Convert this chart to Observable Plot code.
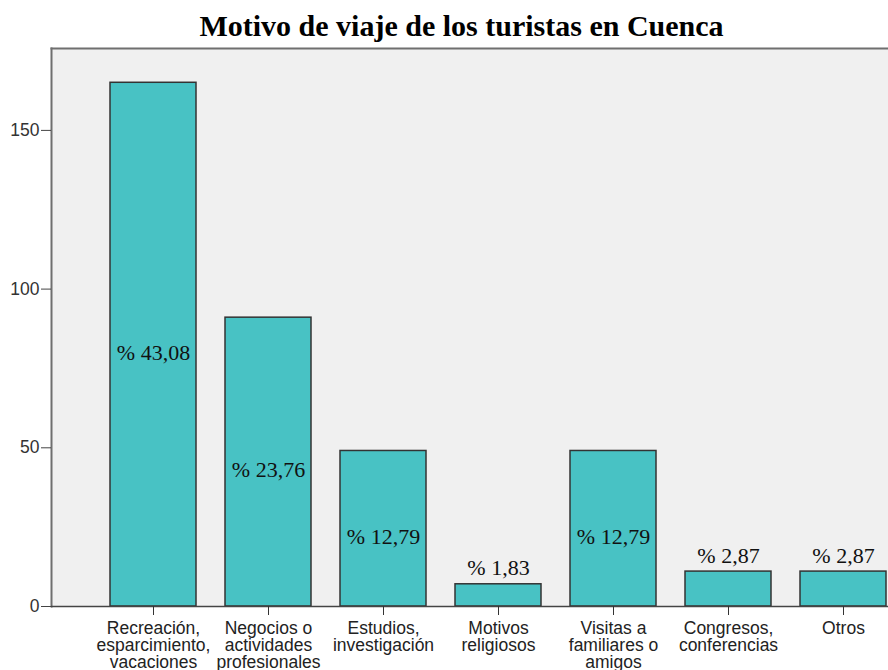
<!DOCTYPE html>
<html>
<head>
<meta charset="utf-8">
<script src="https://cdn.jsdelivr.net/npm/d3@7"></script>
<script src="https://cdn.jsdelivr.net/npm/@observablehq/plot@0.6"></script>
<style>
  html, body { margin: 0; padding: 0; background: #ffffff; }
  #title {
    height: 40px; box-sizing: border-box; padding-left: 35px; padding-top: 11px;
    text-align: center; font-family: "Liberation Serif", "Times New Roman", serif;
    font-weight: bold; font-size: 30px; line-height: 30px; color: #000;
    white-space: nowrap; overflow: visible;
  }
  #chart svg { display: block; }
</style>
</head>
<body>
<div id="title">Motivo de viaje de los turistas en Cuenca</div>
<div id="chart"></div>
<script>
const categories = [
  "Recreación,\nesparcimiento,\nvacaciones",
  "Negocios o\nactividades\nprofesionales",
  "Estudios,\ninvestigación",
  "Motivos\nreligiosos",
  "Visitas a\nfamiliares o\namigos",
  "Congresos,\nconferencias",
  "Otros"
];
const counts = [165, 91, 49, 7, 49, 11, 11];
const percentLabels = ["% 43,08", "% 23,76", "% 12,79", "% 1,83", "% 12,79", "% 2,87", "% 2,87"];
const yTicks = [0, 50, 100, 150];

const data = categories.map((c, i) => ({cat: c, n: counts[i], label: percentLabels[i]}));
const inside = data.filter(d => d.n > 20);
const above = data.filter(d => d.n <= 20);

const chart = Plot.plot({
  width: 888,
  height: 630,
  marginTop: 8,
  marginBottom: 64,
  marginLeft: 51,
  marginRight: 0,
  style: {fontFamily: "'Liberation Sans', Arial, sans-serif", fontSize: "17.5px", color: "#333", background: "#ffffff"},
  x: {domain: categories, range: [95.5, 900.5], paddingInner: 0.25, paddingOuter: 0.125, label: null},
  y: {domain: [0, 175.8], label: null},
  marks: [
    Plot.frame({fill: "#f0f0f0", stroke: null}),
    Plot.frame({anchor: "top", stroke: "#6f6f6f", strokeWidth: 2}),
    Plot.frame({anchor: "left", stroke: "#6f6f6f", strokeWidth: 2}),
    Plot.barY(data, {x: "cat", y: "n", fill: "#48c2c4", stroke: "#333", strokeWidth: 1.5}),
    Plot.ruleY([0], {stroke: "#444", strokeWidth: 1.5}),
    Plot.text(inside, {x: "cat", y: d => d.n / 2, text: "label", dy: 8,
      fontFamily: "'Liberation Serif', 'Times New Roman', serif", fontSize: 22, fill: "#111"}),
    Plot.text(above, {x: "cat", y: "n", text: "label", dy: -16,
      fontFamily: "'Liberation Serif', 'Times New Roman', serif", fontSize: 22, fill: "#111"}),
    Plot.axisY({ticks: yTicks, tickSize: 10, tickPadding: 2, stroke: "#444", fill: "#333", label: null}),
    Plot.axisX({tickSize: 9, tickPadding: 6, stroke: "#333", fill: "#222", lineHeight: 0.98, label: null})
  ]
});
document.getElementById("chart").appendChild(chart);
</script>
</body>
</html>
